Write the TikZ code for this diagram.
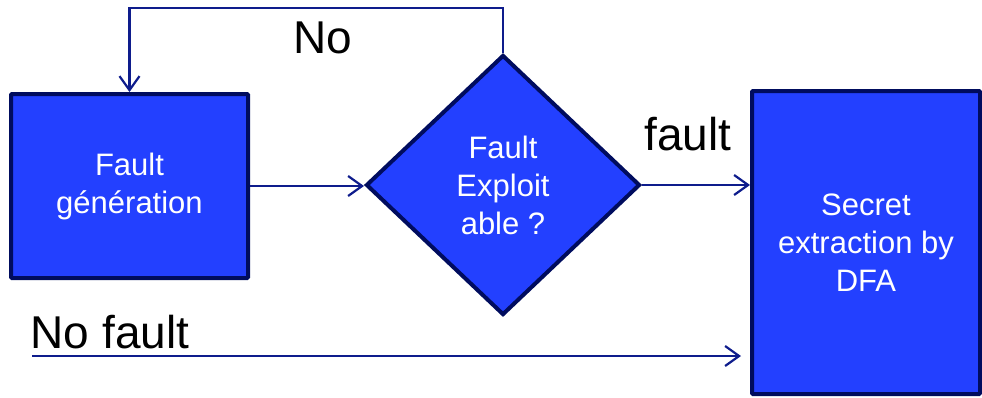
\documentclass[tikz,border=0pt]{standalone}
\usepackage{fontspec}
\setmainfont{Liberation Sans}
\usetikzlibrary{shapes.geometric,arrows.meta}
\definecolor{boxfill}{RGB}{35,64,255}
\definecolor{boxedge}{RGB}{0,12,94}
\definecolor{linkcol}{RGB}{14,28,140}
\begin{document}
\begin{tikzpicture}[x=1pt,y=-1pt,
  block/.style={draw=boxedge,fill=boxfill,line width=4pt,rounded corners=1pt,
    text=white,align=center,inner sep=0pt,
    font=\fontsize{31}{38}\selectfont},
  decision/.style={diamond,draw=boxedge,fill=boxfill,line width=4pt,
    text=white,align=center,inner sep=0pt,
    font=\fontsize{31}{38}\selectfont},
  arr/.style={draw=linkcol,line width=2.2pt,
    -{Straight Barb[length=14pt,width=20pt,line width=2.2pt]}},
  lbl/.style={anchor=base,inner sep=0pt,font=\fontsize{46}{50}\selectfont}]
\useasboundingbox (0,0) rectangle (982,397);

% process boxes and the decision
\node[block,minimum width=237pt,minimum height=184pt] (gen) at (129.5,186) {Fault\\génération};
\node[decision,minimum width=274pt,minimum height=260pt] (dec) at (503,185) {Fault\\Exploit\\able ?};
\node[block,minimum width=228pt,minimum height=303pt] (dfa) at (866,242.5) {Secret\\extraction by\\DFA};

% connectors
\draw[arr] (gen.east) -- (gen.east -| dec.west);
\draw[arr] (dec.east) -- (dec.east -| dfa.west);
\draw[arr] (dec.north) -- (dec.north |- 0,8) -| (gen.north);
\coordinate (nfstart) at (32,356);
\draw[arr,shorten >=9pt] (nfstart) -- (nfstart -| dfa.west);

% labels
\node[lbl] (lno) at (323,53) {No};
\node[lbl] (lfault) at (688,150) {fault};
\node[lbl] (lnofault) at (110,348) {No fault};
\end{tikzpicture}
\end{document}
